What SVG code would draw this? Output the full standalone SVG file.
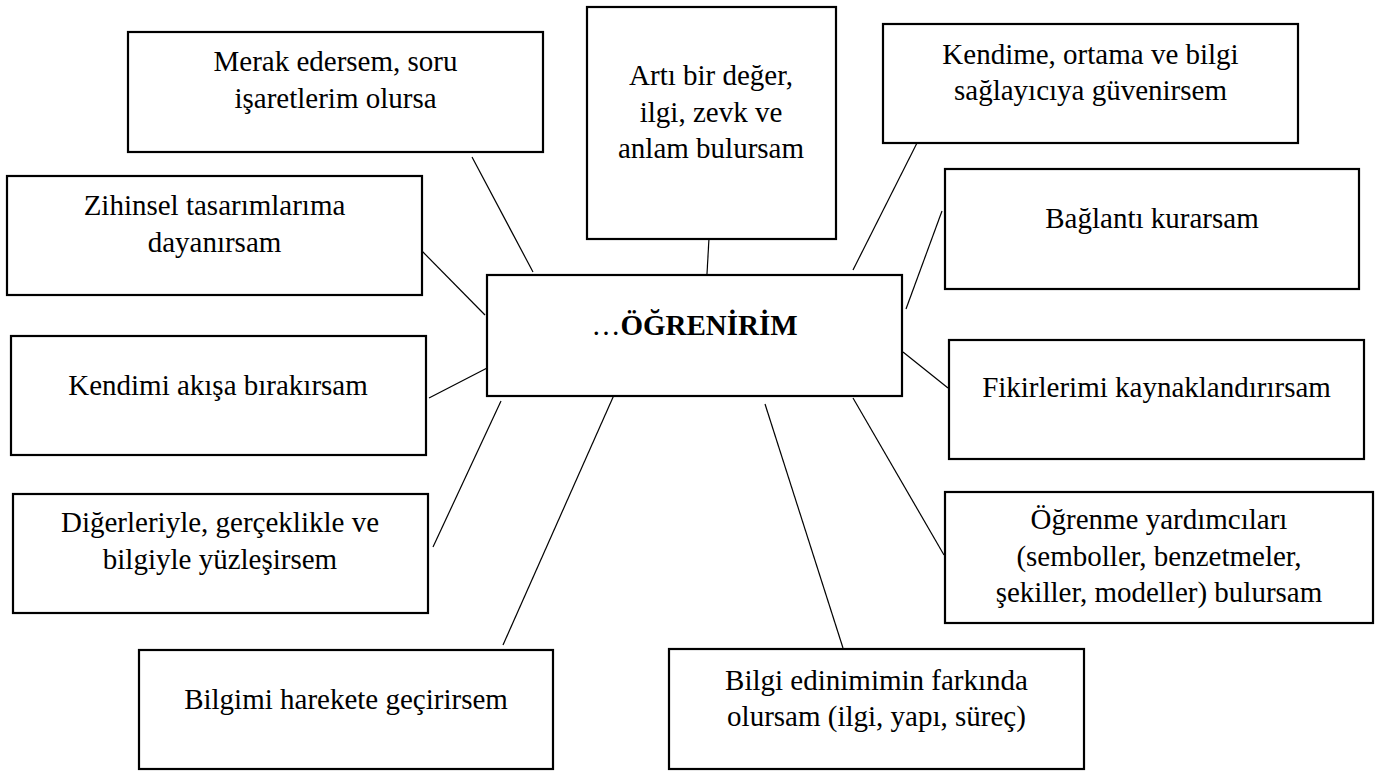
<svg xmlns="http://www.w3.org/2000/svg" width="1380" height="772" viewBox="0 0 1380 772">
<style>
.box{fill:#fff;stroke:#000;stroke-width:2.2}
.t{font-family:'Liberation Serif','Times New Roman','DejaVu Serif',serif;font-size:29px;fill:#000;text-anchor:middle}
.b{font-weight:bold}
.c line{stroke:#000;stroke-width:1.2}
</style>
<rect width="1380" height="772" fill="#fff"/>
<g class="c" id="connectors">
<line x1="709" y1="238" x2="707" y2="274"/>
<line x1="472" y1="157" x2="533" y2="272"/>
<line x1="917" y1="143" x2="853" y2="270"/>
<line x1="942" y1="211" x2="906" y2="309"/>
<line x1="419" y1="248" x2="485" y2="315"/>
<line x1="429" y1="398" x2="491" y2="366"/>
<line x1="433" y1="547" x2="501" y2="401"/>
<line x1="503" y1="645" x2="614" y2="395"/>
<line x1="843" y1="648" x2="765" y2="404"/>
<line x1="853" y1="398" x2="944" y2="555"/>
<line x1="903" y1="352" x2="948" y2="388"/>
</g>
<g id="center">
<rect class="box" x="487" y="275" width="415" height="121"/>
<text class="t" font-family="Liberation Serif, serif" x="694.5" y="335"><tspan>…</tspan><tspan class="b">ÖĞRENİRİM</tspan></text>
</g>
<g id="merak">
<rect class="box" x="128" y="32" width="415" height="120"/>
<text class="t" x="335.5" y="71">Merak edersem, soru</text>
<text class="t" x="335.5" y="107.5">işaretlerim olursa</text>
</g>
<g id="arti">
<rect class="box" x="587" y="7" width="249" height="232"/>
<text class="t" x="711" y="85">Artı bir değer,</text>
<text class="t" x="711" y="121.5">ilgi, zevk ve</text>
<text class="t" x="711" y="158">anlam bulursam</text>
</g>
<g id="kendime">
<rect class="box" x="883" y="24" width="415" height="119"/>
<text class="t" x="1090.5" y="63.5">Kendime, ortama ve bilgi</text>
<text class="t" x="1090.5" y="100">sağlayıcıya güvenirsem</text>
</g>
<g id="baglanti">
<rect class="box" x="945" y="169" width="414" height="120"/>
<text class="t" x="1152" y="228">Bağlantı kurarsam</text>
</g>
<g id="zihinsel">
<rect class="box" x="7" y="176" width="415" height="119"/>
<text class="t" x="214.5" y="215">Zihinsel tasarımlarıma</text>
<text class="t" x="214.5" y="251.5">dayanırsam</text>
</g>
<g id="akis">
<rect class="box" x="11" y="336" width="415" height="119"/>
<text class="t" x="218" y="395">Kendimi akışa bırakırsam</text>
</g>
<g id="fikir">
<rect class="box" x="949" y="340" width="415" height="119"/>
<text class="t" x="1156.5" y="397">Fikirlerimi kaynaklandırırsam</text>
</g>
<g id="diger">
<rect class="box" x="13" y="494" width="415" height="119"/>
<text class="t" x="220" y="532">Diğerleriyle, gerçeklikle ve</text>
<text class="t" x="220" y="568.5">bilgiyle yüzleşirsem</text>
</g>
<g id="yardimci">
<rect class="box" x="945" y="492" width="428" height="131"/>
<text class="t" x="1159" y="529">Öğrenme yardımcıları</text>
<text class="t" x="1159" y="566">(semboller, benzetmeler,</text>
<text class="t" x="1159" y="602">şekiller, modeller) bulursam</text>
</g>
<g id="bilgimi">
<rect class="box" x="139" y="650" width="414" height="119"/>
<text class="t" x="346" y="708.5">Bilgimi harekete geçirirsem</text>
</g>
<g id="edinim">
<rect class="box" x="669" y="649" width="415" height="120"/>
<text class="t" x="876.5" y="690">Bilgi edinimimin farkında</text>
<text class="t" x="876.5" y="726">olursam (ilgi, yapı, süreç)</text>
</g>
</svg>
